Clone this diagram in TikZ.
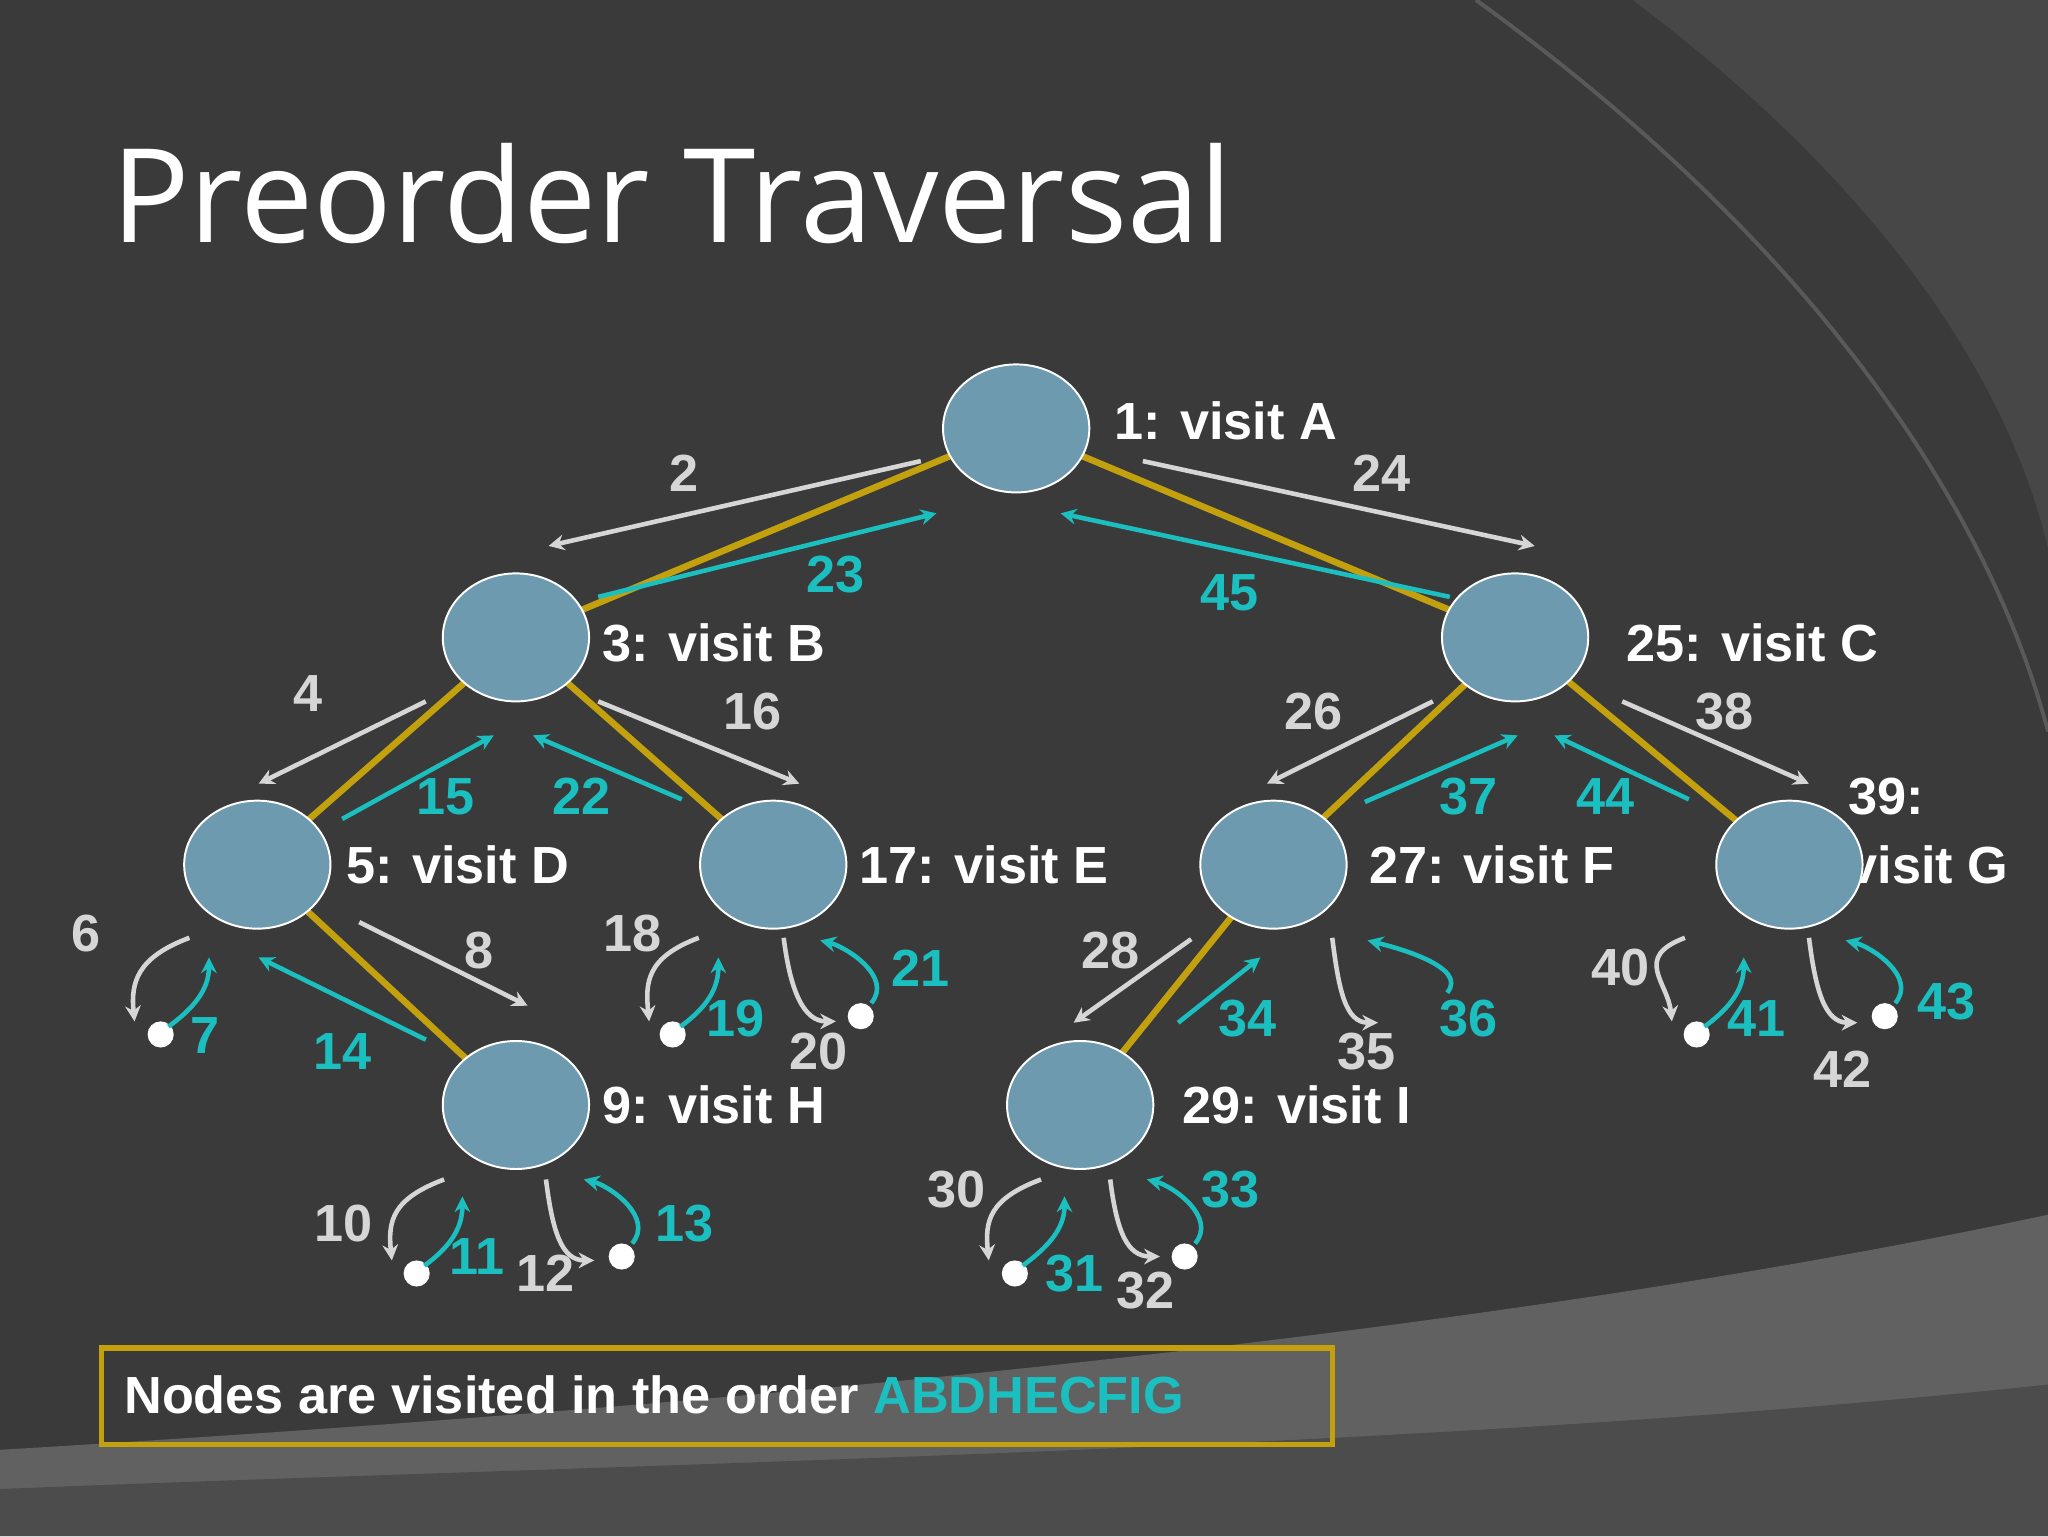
\documentclass[tikz,border=0pt]{standalone}
\usepackage{fontspec}
\setmainfont{Liberation Sans}
\newfontfamily\titlefont{Open Sans}
\begin{document}
\begin{tikzpicture}[x=1pt,y=-1pt,
  tnode/.style={ellipse,draw=white,line width=1.5pt,fill=nodefill,minimum width=112pt,minimum height=98pt,inner sep=0pt},
  gold/.style={draw=goldc,line width=5pt},
  garr/.style={draw=grayc,line width=3.5pt,-{Stealth[length=12pt,width=12pt]}},
  carr/.style={draw=cyanc,line width=3.5pt,-{Stealth[length=12pt,width=12pt]}},
  glab/.style={text=grayc,font=\fontsize{40}{40}\selectfont\bfseries},
  clab/.style={text=cyanc,font=\fontsize{40}{40}\selectfont\bfseries},
  vlab/.style={text=white,anchor=west,inner sep=0pt,font=\fontsize{40}{40}\selectfont\bfseries},
  leaf/.style={circle,fill=white,minimum size=20pt,inner sep=0pt}]
\usetikzlibrary{shapes.geometric,arrows.meta}
\definecolor{bg}{HTML}{3A3A3A}
\definecolor{nodefill}{HTML}{6E9AAF}
\definecolor{goldc}{HTML}{C2A00E}
\definecolor{grayc}{HTML}{D6D6D6}
\definecolor{cyanc}{HTML}{1CBFBF}
\useasboundingbox (0,0) rectangle (1568,1176);
\fill[bg] (0,0) rectangle (1568,1176);
\begin{scope}
\clip (0,0) rectangle (1568,1176);
\fill[black!72] (1250,0) .. controls (1450,150) and (1540,300) .. (1568,420) -- (1568,0) -- cycle;
\draw[black!65,line width=3pt] (1130,0) .. controls (1380,180) and (1520,380) .. (1568,560);
\fill[black!62] (0,1110) .. controls (500,1080) and (1100,1030) .. (1568,930) -- (1568,1176) -- (0,1176) -- cycle;
\fill[black!70] (0,1140) .. controls (500,1120) and (1100,1110) .. (1568,1060) -- (1568,1176) -- (0,1176) -- cycle;
\end{scope}
\node[anchor=west,text=white,inner sep=0pt,font=\titlefont\fontsize{100}{100}\selectfont] (title) at (85,148) {Preorder Traversal};
% labels that sit under circles
\node[vlab] (lg1) at (1415,610) {39:};
\node[vlab] (lg2) at (1415,662) {visit G};
% edges
\coordinate (A) at (778,328); \coordinate (B) at (395,488); \coordinate (C) at (1160,488);
\coordinate (D) at (197,662); \coordinate (E) at (592,662); \coordinate (F) at (975,662);
\coordinate (G) at (1370,662); \coordinate (H) at (395,846); \coordinate (I) at (827,846);
\foreach \a/\b in {A/B,A/C,B/D,B/E,C/F,C/G,D/H,F/I} \draw[gold] (\a) -- (\b);
\node[tnode] (nA) at (A) {}; \node[tnode] (nB) at (B) {}; \node[tnode] (nC) at (C) {};
\node[tnode] (nD) at (D) {}; \node[tnode] (nE) at (E) {}; \node[tnode] (nF) at (F) {};
\node[tnode] (nG) at (G) {}; \node[tnode] (nH) at (H) {}; \node[tnode] (nI) at (I) {};
\node[vlab] at (853,322) {1: visit A};
\node[vlab] at (461,492) {3: visit B};
\node[vlab] at (1245,492) {25: visit C};
\node[vlab] at (265,662) {5: visit D};
\node[vlab] at (658,662) {17: visit E};
\node[vlab] at (1048,662) {27: visit F};
\node[vlab] at (461,846) {9: visit H};
\node[vlab] at (905,846) {29: visit I};
% straight arrows
\draw[garr] (705,353) -- (420,418); \node[glab] at (524,362) {2};
\draw[carr] (458,457) -- (717,393); \node[clab] at (640,440) {23};
\draw[garr] (875,353) -- (1175,418); \node[glab] at (1058,362) {24};
\draw[carr] (1110,457) -- (812,393); \node[clab] at (941,454) {45};
\draw[garr] (326,537) -- (198,600); \node[glab] at (236,531) {4};
\draw[carr] (262,627) -- (378,563); \node[clab] at (341,610) {15};
\draw[garr] (458,537) -- (612,600); \node[glab] at (576,545) {16};
\draw[carr] (522,612) -- (408,563); \node[clab] at (445,610) {22};
\draw[garr] (1097,537) -- (970,600); \node[glab] at (1006,545) {26};
\draw[carr] (1045,614) -- (1162,563); \node[clab] at (1124,610) {37};
\draw[garr] (1242,537) -- (1385,600); \node[glab] at (1320,545) {38};
\draw[carr] (1293,612) -- (1190,563); \node[clab] at (1229,610) {44};
\draw[garr] (275,706) -- (404,770); \node[glab] at (367,728) {8};
\draw[carr] (326,796) -- (198,733); \node[clab] at (262,805) {14};
\draw[garr] (912,719) -- (822,783); \node[glab] at (850,728) {28};
\draw[carr] (902,783) -- (965,733); \node[clab] at (955,780) {34};
% left loops: gray start, gray end, dot, cyan end
\foreach \sx/\sy/\ex/\ey/\dx/\dy/\cx/\cy/\gl/\glx/\gly/\cl/\clx/\cly in {
 145/718/103/782/123/792/160/733/6/66/715/7/157/793,
 535/718/497/782/515/792/550/733/18/484/715/19/563/780,
 1290/718/1280/782/1299/792/1335/733/40/1241/741/41/1345/780,
 340/903/300/965/319/975/354/916/10/263/937/11/365/962,
 797/903/757/965/777/975/815/916/30/732/911/31/823/975}{
 \draw[garr] (\sx,\sy) .. controls (\sx-40,\sy+15) and (\ex-3,\ey-30) .. (\ex,\ey);
 \node[leaf] at (\dx,\dy) {};
 \draw[carr] (\dx+6,\dy-6) .. controls (\dx+25,\dy-20) and (\cx,\cy+25) .. (\cx,\cy);
 \node[glab] at (\glx,\gly) {\gl};
 \node[clab] at (\clx,\cly) {\cl};
}
% right loops
\foreach \sx/\sy/\ex/\ey/\dx/\dy/\hx/\hy/\gl/\glx/\gly/\cl/\clx/\cly/\dot in {
 600/718/640/782/659/778/628/720/20/627/805/21/705/741/1,
 1020/718/1055/783/1100/770/1047/720/35/1046/805/36/1124/780/0,
 1385/718/1422/783/1443/778/1413/720/42/1411/819/43/1490/767/1,
 418/903/455/965/476/962/447/903/12/418/975/13/524/937/1,
 850/903/888/962/907/962/878/903/32/877/988/33/942/911/1}{
 \draw[garr] (\sx,\sy) .. controls (\sx+5,\sy+40) and (\ex-25,\ey) .. (\ex,\ey);
 \ifnum\dot=1 \node[leaf] at (\dx,\dy) {}; \fi
 \draw[carr] (\dx+8,\dy-10) .. controls (\dx+25,\dy-30) and (\hx+20,\hy+5) .. (\hx,\hy);
 \node[glab] at (\glx,\gly) {\gl};
 \node[clab] at (\clx,\cly) {\cl};
}
% box
\draw[goldc,line width=4pt] (78,1032) rectangle (1020,1106);
\node[anchor=west,inner sep=0pt,font=\fontsize{40}{40}\selectfont\bfseries] (order) at (95,1068) {\color{white}Nodes are visited in the order \color{cyanc}ABDHECFIG};
\end{tikzpicture}
\end{document}
